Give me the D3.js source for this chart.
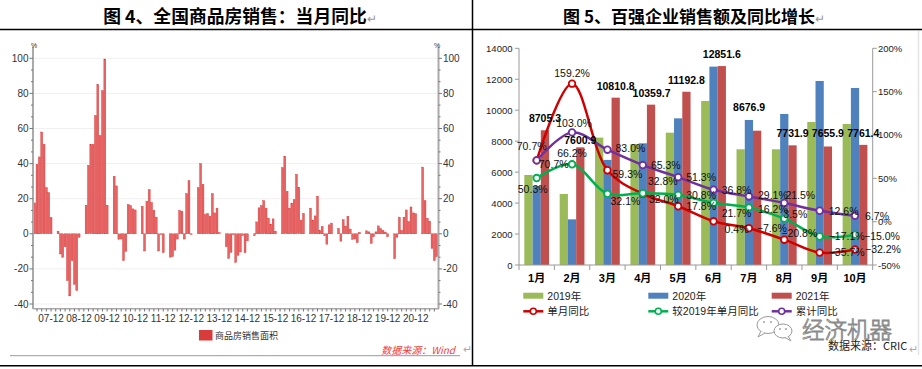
<!DOCTYPE html>
<html><head><meta charset="utf-8">
<script src="https://cdn.jsdelivr.net/npm/d3@7"></script>
<style>body{margin:0;background:#fff;} svg{display:block;}</style>
</head><body>
<script>
// ---------------- DATA ----------------
// Left chart: 全国商品房销售面积 当月同比 (%), monthly from 2007-05 to 2021-09 (Jan/Feb not published)
const leftStart = [2007, 5];
const salesAreaYoY = [
  /*2007 05-12*/ 17.6, 39.6, 43.8, 58, 51, 26.3, 23.5, 9.3,
  /*2008*/ null, null, 1.5, -11.5, -13.4, -7.4, -26.7, -35.4, -15.3, -28.8, -32.4, -2,
  /*2009*/ null, null, 16.3, 39, 51, 51, 67.4, 85, 56, 81.6, 99.6, 16.3,
  /*2010*/ null, null, 32.8, 27.3, -3.2, -3, -15.3, -10, 16.7, 16.1, 14.2, 13.6,
  /*2011*/ null, null, 15.7, -9.8, 18.6, 25.2, 17.8, 13.4, 9.5, -9.8, -0.4, -10.8,
  /*2012*/ null, null, -13.3, -13, -9.3, -3, 13.3, 12.9, -3, 22.9, 30.3, -0.4,
  /*2013*/ null, null, 26.3, 40, 28.2, 11, 11.5, 10, 22.9, 11.9, 14.6, 0.6,
  /*2014*/ null, null, -7.4, -14, -10.6, -0.5, -16.3, -12.3, -10.4, -1, -10.8, -4,
  /*2015*/ null, null, -1.1, 6.8, 14.8, 16.1, 18.9, 14.6, 8.9, 5.5, 8.5, 1.5,
  /*2016*/ null, null, 37.7, 44.1, 24.2, 14.6, 17.5, 19.5, 33.9, 26.5, 7.8, 11.6,
  /*2017*/ null, null, 14.6, 7.8, 10.2, 21.4, 1.9, 4.2, -1.1, -5.9, 5.1, 6.1,
  /*2018*/ null, null, 3, -4.2, 8, 4.4, 10, 2.7, -3.2, -3, -5.1, 0.8,
  /*2019*/ null, null, 1.7, 1.1, -5.5, -1.7, 1.1, 4.5, 3, 1.9, 1, -1.7,
  /*2020*/ null, null, -14.2, -2, 9.5, 1.9, 9.5, 13.6, 7, 15.3, 11.9, 11.4,
  /*2021*/ null, null, 38, 18.9, 8.9, 7.2, -8.3, -15.3, -13
];
const leftYTicks = [-40, -20, 0, 20, 40, 60, 80, 100];
const leftXTickLabels = ["07-12","08-12","09-12","10-12","11-12","12-12","13-12","14-12","15-12","16-12","17-12","18-12","19-12","20-12"];
const leftLegend = "商品房销售面积";

// Right chart: 百强企业销售额 (亿元) and 同比 (%)
const rightCategories = ["1月","2月","3月","4月","5月","6月","7月","8月","9月","10月"];
const barSeriesNames = ["2019年","2020年","2021年"];
const sales2019 = [5815, 4590, 8230, 7820, 8550, 10600, 7475, 7475, 9240, 9110];
const sales2020 = [5100, 2950, 6790, 7860, 9475, 12815, 9370, 9757, 11890, 11437];
const sales2021 = [8705.3, 7600.9, 10810.8, 10359.7, 11192.8, 12851.6, 8676.9, 7731.9, 7655.9, 7761.4];
const lineSeriesNames = ["单月同比","较2019年单月同比","累计同比"];
const yoyMonthly    = [70.7, 159.2, 59.3, 32.0, 17.8, 0.4, -7.6, -20.8, -35.7, -32.2];
const yoyVs2019     = [50.3, 66.2, 32.1, 32.8, 30.8, 21.7, 16.2, 3.5, -17.1, -15.0];
const yoyCumulative = [70.7, 103.0, 83.0, 65.3, 51.3, 36.8, 29.1, 21.5, 12.6, 6.7];
const rightYTicks = [0, 2000, 4000, 6000, 8000, 10000, 12000, 14000];
const rightY2Ticks = [-50, 0, 50, 100, 150, 200];

// ---------------- RENDER ----------------
const SANS = "'Liberation Sans', Arial, 'Noto Sans CJK SC', sans-serif";
const CJK = "'Noto Sans CJK SC', 'Noto Sans', sans-serif";
const svg = d3.select("body").append("svg").attr("width", 922).attr("height", 369);

// page frame
svg.append("line").attr("x1",0).attr("x2",922).attr("y1",29.5).attr("y2",29.5).attr("stroke","#000").attr("stroke-width",1.5);
svg.append("line").attr("x1",472.5).attr("x2",472.5).attr("y1",0).attr("y2",366).attr("stroke","#000").attr("stroke-width",1.5);
svg.append("line").attr("x1",0).attr("x2",922).attr("y1",365.8).attr("y2",365.8).attr("stroke","#000").attr("stroke-width",1.5);

function title(x, txt, size) {
  const t = svg.append("text").attr("x", x).attr("y", 23).attr("text-anchor","middle")
    .attr("font-family", CJK).attr("font-size", size).attr("font-weight","bold").attr("fill","#000");
  t.append("tspan").text(txt);
  t.append("tspan").text("↵").attr("font-weight","normal").attr("font-size",12).attr("fill","#999");
}
title(240, "图 4、全国商品房销售：当月同比", 17.8);
title(694, "图 5、百强企业销售额及同比增长", 17);

// ---- Left chart ----
const monthKeys = salesAreaYoY.map((_, i) => d3.timeFormat("%y-%m")(new Date(leftStart[0], leftStart[1] - 1 + i, 1)));
const lx = d3.scalePoint().domain(monthKeys).range([34.7, 436.7]);
const ly = d3.scaleLinear().domain([-40, 100]).range([304, 58.3]);
const L = svg.append("g");

L.selectAll(".grid").data(leftYTicks.filter(d => d !== 0)).join("line")
  .attr("x1", 33).attr("x2", 438).attr("y1", d => ly(d)).attr("y2", d => ly(d))
  .attr("stroke", "#f0f0f0").attr("stroke-width", 1);

L.selectAll(".bar").data(salesAreaYoY.map((v, i) => ({k: monthKeys[i], v})).filter(d => d.v !== null)).join("rect")
  .attr("x", d => lx(d.k) - 0.95).attr("width", 1.9)
  .attr("y", d => Math.min(ly(d.v), ly(0))).attr("height", d => Math.abs(ly(d.v) - ly(0)))
  .attr("fill", "#e66464").attr("stroke", "#d93232").attr("stroke-width", 0.4);

// axes lines
L.append("line").attr("x1",33).attr("x2",33).attr("y1",46.5).attr("y2",309).attr("stroke","#aaa").attr("stroke-width",2);
L.append("line").attr("x1",438.5).attr("x2",438.5).attr("y1",46.5).attr("y2",309).attr("stroke","#aaa").attr("stroke-width",2);
L.append("line").attr("x1",33).attr("x2",439).attr("y1",308.7).attr("y2",308.7).attr("stroke","#aaa").attr("stroke-width",1.5);

const minorVals = d3.range(0, 22).map(k => -40 + k * 20 / 3);
L.selectAll(".lt").data(minorVals).join("line")
  .attr("x1", (d, i) => i % 3 === 0 ? 29.5 : 31).attr("x2", 33).attr("y1", d => ly(d)).attr("y2", d => ly(d))
  .attr("stroke", "#777").attr("stroke-width", 1);
L.selectAll(".rt").data(minorVals).join("line")
  .attr("x1", 438.5).attr("x2", (d, i) => i % 3 === 0 ? 442 : 440.5).attr("y1", d => ly(d)).attr("y2", d => ly(d))
  .attr("stroke", "#777").attr("stroke-width", 1);
L.selectAll(".ll").data(leftYTicks).join("text")
  .attr("x", 28.5).attr("y", d => ly(d) + 3.5).attr("text-anchor", "end")
  .attr("font-family", SANS).attr("font-size", 10).attr("fill", "#333").text(d => d);
L.selectAll(".rl").data(leftYTicks).join("text")
  .attr("x", 443).attr("y", d => ly(d) + 3.5).attr("text-anchor", "start")
  .attr("font-family", SANS).attr("font-size", 10).attr("fill", "#333").text(d => d);
L.append("text").attr("x", 34).attr("y", 48).attr("text-anchor","middle").attr("font-family",SANS).attr("font-size",7).attr("fill","#333").text("%");
L.append("text").attr("x", 437).attr("y", 48).attr("text-anchor","middle").attr("font-family",SANS).attr("font-size",7).attr("fill","#333").text("%");

L.selectAll(".xt").data(monthKeys.filter((k, i) => i % 2 === 1)).join("line")
  .attr("x1", d => lx(d)).attr("x2", d => lx(d)).attr("y1", 308.7).attr("y2", 311.5)
  .attr("stroke", "#777").attr("stroke-width", 1);
L.selectAll(".xl").data(leftXTickLabels).join("text")
  .attr("x", d => lx(d)).attr("y", 322).attr("text-anchor", "middle")
  .attr("font-family", SANS).attr("font-size", 10).attr("fill", "#333").text(d => d);

L.append("rect").attr("x",199).attr("y",330).attr("width",13.5).attr("height",10.5).attr("fill","#d93a3a");
L.append("text").attr("x",215).attr("y",339).attr("font-family",CJK).attr("font-size",9).attr("fill","#333").text(leftLegend);
L.append("text").attr("x",455).attr("y",354).attr("text-anchor","end").attr("font-family",CJK).attr("font-size",10)
  .attr("font-style","italic").attr("fill","#f03c3c").text("数据来源：Wind");
L.append("line").attr("x1",10).attr("x2",460).attr("y1",355.7).attr("y2",355.7).attr("stroke","#999").attr("stroke-width",1);
svg.append("text").attr("x",463).attr("y",353).attr("font-family",SANS).attr("font-size",11).attr("fill","#aaa").text("↵");
svg.append("text").attr("x",909).attr("y",353).attr("font-family",SANS).attr("font-size",11).attr("fill","#aaa").text("↵");
svg.append("line").attr("x1",918.5).attr("x2",918.5).attr("y1",31).attr("y2",355).attr("stroke","#e4e4e4").attr("stroke-width",1.5);

// ---- Right chart ----
const R = svg.append("g");
const rx0 = d3.scaleBand().domain(rightCategories).range([519, 872.7]).paddingInner(0.3).paddingOuter(0.15);
const rx1 = d3.scaleBand().domain(barSeriesNames).range([0, rx0.bandwidth()]);
const ry = d3.scaleLinear().domain([0, 14000]).range([265, 48.3]);
const ry2 = d3.scaleLinear().domain([-50, 200]).range([265, 48.3]);
const barColors = {"2019年": "#9bbb59", "2020年": "#4f81bd", "2021年": "#c0504d"};
const barData = [sales2019, sales2020, sales2021];
const cx = c => rx0(c) + rx0.bandwidth() / 2;

barSeriesNames.forEach((s, si) => {
  R.selectAll(".b" + si).data(barData[si]).join("rect")
    .attr("x", (d, i) => rx0(rightCategories[i]) + rx1(s)).attr("width", rx1.bandwidth())
    .attr("y", d => ry(d)).attr("height", d => ry(0) - ry(d)).attr("fill", barColors[s]);
});

// axes
R.append("line").attr("x1",519).attr("x2",519).attr("y1",48.3).attr("y2",265).attr("stroke","#999");
R.append("line").attr("x1",872.7).attr("x2",872.7).attr("y1",48.3).attr("y2",265).attr("stroke","#999");
R.append("line").attr("x1",519).attr("x2",872.7).attr("y1",265).attr("y2",265).attr("stroke","#999");
R.selectAll(".ylt").data(rightYTicks).join("line").attr("x1",515).attr("x2",519).attr("y1",d=>ry(d)).attr("y2",d=>ry(d)).attr("stroke","#999");
R.selectAll(".yl").data(rightYTicks).join("text").attr("x",512.5).attr("y",d=>ry(d)+3.5).attr("text-anchor","end")
  .attr("font-family",SANS).attr("font-size",9.5).attr("fill","#222").text(d=>d);
R.selectAll(".y2t").data(rightY2Ticks).join("line").attr("x1",872.7).attr("x2",876.7).attr("y1",d=>ry2(d)).attr("y2",d=>ry2(d)).attr("stroke","#999");
R.selectAll(".y2l").data(rightY2Ticks).join("text").attr("x",878).attr("y",d=>ry2(d)+3.5)
  .attr("font-family",SANS).attr("font-size",9.5).attr("fill","#222").text(d=>d+"%");
const step = rx0.step();
R.selectAll(".xt").data(d3.range(0, 11)).join("line").attr("x1",k=>519+k*step).attr("x2",k=>519+k*step)
  .attr("y1",265).attr("y2",270).attr("stroke","#999");
R.selectAll(".xl").data(rightCategories).join("text").attr("x",d=>cx(d)).attr("y",282).attr("text-anchor","middle")
  .attr("font-family",SANS).attr("font-size",11).attr("font-weight","bold").attr("fill","#000").text(d=>d);

// lines
const lineColors = ["#d00000", "#00b050", "#7030a0"];
const lineData = [yoyMonthly, yoyVs2019, yoyCumulative];
const lineGen = d3.line().x((d, i) => cx(rightCategories[i])).y(d => ry2(d)).curve(d3.curveCatmullRom.alpha(0.5));
lineData.forEach((arr, si) => {
  R.append("path").datum(arr).attr("d", lineGen).attr("fill","none").attr("stroke",lineColors[si]).attr("stroke-width",2.5);
  R.selectAll(".m"+si).data(arr).join("circle").attr("cx",(d,i)=>cx(rightCategories[i])).attr("cy",d=>ry2(d)).attr("r",3.3)
    .attr("fill","#fff").attr("stroke",lineColors[si]).attr("stroke-width",1.8);
});

// bar value labels (2021)
const barLabelShift = [[0,0],[0,4.5],[0,0],[0.5,0.5],[0,0],[0,0],[-8,-12],[0,0],[0,-1],[0,0]];
R.selectAll(".bl").data(sales2021).join("text")
  .attr("x",(d,i)=>rx0(rightCategories[i]) + rx1("2021年") + rx1.bandwidth()/2 + barLabelShift[i][0])
  .attr("y",(d,i)=>ry(d) - 8 + barLabelShift[i][1]).attr("text-anchor","middle")
  .attr("font-family",SANS).attr("font-size",10.5).attr("font-weight","bold").attr("fill","#000")
  .text(d => d3.format(".1f")(d));

// line value labels: [dx, dy] from marker centre
const lineLabelOffsets = [
  [[17,4],[0,-10.5],[20,4],[21,5],[23,0],[23,8],[23,0],[15,-6],[27,0],[28,0]],
  [[-4,11],[0,-11],[18,7],[20,-12],[23,0],[23,10],[24,2],[11,-4],[27,0],[27,2]],
  [[-5,-14],[2,-9.5],[23,-2],[23,0],[23,0],[23,0],[24,-1],[16,-8],[24,0],[22,0]]
];
lineData.forEach((arr, si) => {
  R.selectAll(".ll"+si).data(arr).join("text")
    .attr("x",(d,i)=>cx(rightCategories[i]) + lineLabelOffsets[si][i][0])
    .attr("y",(d,i)=>ry2(d) + lineLabelOffsets[si][i][1] + 3.8)
    .attr("text-anchor","middle").attr("font-family",SANS).attr("font-size",10.5).attr("fill","#111")
    .text(d => d3.format(".1f")(d) + "%");
});

// legend
const legX = [523.3, 648.3, 771.7];
barSeriesNames.forEach((s, i) => {
  R.append("rect").attr("x",legX[i]).attr("y",292.7).attr("width",20).attr("height",6).attr("fill",barColors[s]);
  R.append("text").attr("x",legX[i]+24).attr("y",299.5).attr("font-family",SANS).attr("font-size",10.5).attr("fill","#222").text(s);
});
lineSeriesNames.forEach((s, i) => {
  R.append("line").attr("x1",legX[i]).attr("x2",legX[i]+20).attr("y1",311.3).attr("y2",311.3).attr("stroke",lineColors[i]).attr("stroke-width",2.5);
  R.append("circle").attr("cx",legX[i]+10).attr("cy",311.3).attr("r",3).attr("fill","#fff").attr("stroke",lineColors[i]).attr("stroke-width",1.6);
  R.append("text").attr("x",legX[i]+24).attr("y",315).attr("font-family",SANS).attr("font-size",10.5).attr("fill","#222").text(s);
});

// watermark
const wm = svg.append("g").attr("stroke","#999").attr("stroke-width",1);
wm.append("ellipse").attr("cx",768).attr("cy",325).attr("rx",11).attr("ry",8.5).attr("fill","#fff");
wm.append("path").attr("d","M761,331 L758,337 L765,333").attr("fill","#fff");
wm.append("ellipse").attr("cx",783).attr("cy",331).attr("rx",9).attr("ry",7).attr("fill","#fff");
wm.append("path").attr("d","M788,336 L791,341 L785,337.5").attr("fill","#fff");
[[764,322],[771,322],[780,329],[786,329]].forEach(p => wm.append("circle").attr("cx",p[0]).attr("cy",p[1]).attr("r",0.9).attr("fill","#999").attr("stroke","none"));
svg.append("text").attr("x",802).attr("y",338).attr("font-family",CJK).attr("font-size",22.5).attr("font-weight",300)
  .attr("fill","#fff").attr("stroke","#8a8a8a").attr("stroke-width",0.9).text("经济机器");
svg.append("text").attr("x",828).attr("y",350).attr("font-family",CJK).attr("font-size",11).attr("fill","#222").text("数据来源：CRIC");
</script>
</body></html>
